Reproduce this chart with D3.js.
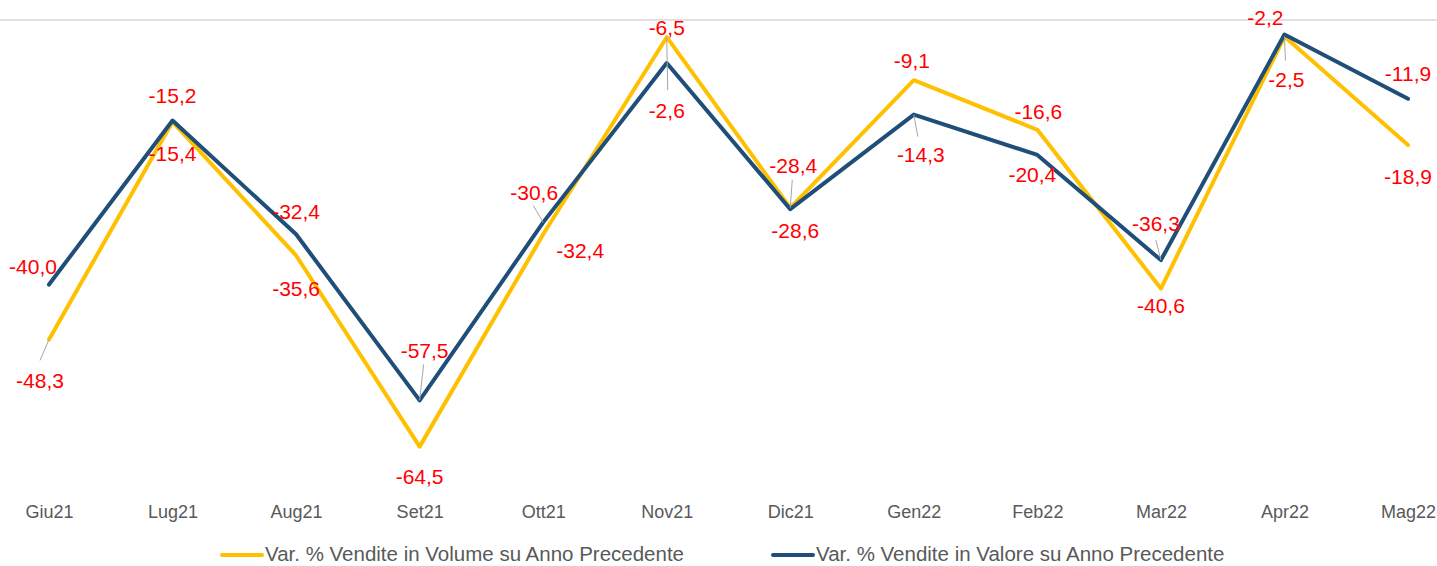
<!DOCTYPE html>
<head>
<meta charset="UTF-8">
<title>Var. % Vendite</title>
<style>
body { margin: 0; background: #fff; }
.cat text { font: 18px "Liberation Sans", sans-serif; fill: #595959; }
.lbl { font: 21px "Liberation Sans", sans-serif; fill: #ff0000; }
.leader { stroke: #a6a6a6; stroke-width: 1px; }
.legend text { font: 20.5px "Liberation Sans", sans-serif; fill: #595959; }
.series { fill: none; stroke-width: 4px; stroke-linejoin: round; stroke-linecap: round; }
</style>
<body>
<script src="https://cdn.jsdelivr.net/npm/d3@7"></script>
<script>

// categories and the two series
var months = ["Giu21", "Lug21", "Aug21", "Set21", "Ott21", "Nov21",
              "Dic21", "Gen22", "Feb22", "Mar22", "Apr22", "Mag22"];
var volume = [-48.3, -15.4, -35.6, -64.5, -32.4, -2.6, -28.4, -9.1, -16.6, -40.6, -2.5, -18.9];
var valore = [-40.0, -15.2, -32.4, -57.5, -30.6, -6.5, -28.6, -14.3, -20.4, -36.3, -2.2, -11.9];
var seriesNames = ["Var. % Vendite in Volume su Anno Precedente",
                   "Var. % Vendite in Valore su Anno Precedente"];

// where each data label sits relative to its point (dx, dy, optional leader end)
var volLabelPos = [
  {dx: -9, dy: 41, lead: [-9, 21]}, {dx: 0, dy: 32}, {dx: 0, dy: 33}, {dx: 0, dy: 30},
  {dx: 37, dy: 16}, {dx: 0, dy: 73, lead: [1, 53]}, {dx: 3, dy: -42, lead: [2, -28]},
  {dx: -2, dy: -20}, {dx: 1, dy: -18}, {dx: 0, dy: 17}, {dx: 2, dy: 43, lead: [1, 24]},
  {dx: 0, dy: 31}
];
var valLabelPos = [
  {dx: -16, dy: -18}, {dx: 0, dy: -25}, {dx: 0, dy: -23}, {dx: 5, dy: -50, lead: [4, -36]},
  {dx: -9, dy: -30, lead: [-10, -17]}, {dx: 0, dy: -36}, {dx: 5, dy: 21},
  {dx: 7, dy: 40, lead: [4, 22]}, {dx: -5, dy: 20}, {dx: -5, dy: -37, lead: [-5, -20]},
  {dx: -19, dy: -17}, {dx: 0, dy: -25}
];

var width = 1437, height = 566;

var svg = d3.select("body").append("svg")
    .attr("width", width)
    .attr("height", height);

var x = d3.scalePoint().domain(months).range([49, 1408]);
var y = d3.scaleLinear().domain([-70, 0]).range([483, 20]);

// the only gridline (at 0)
svg.append("line")
    .attr("x1", 0).attr("x2", width)
    .attr("y1", y(0)).attr("y2", y(0))
    .attr("stroke", "#d9d9d9")
    .attr("stroke-width", 1.5);

// category labels
var xAxis = svg.append("g")
    .attr("class", "cat")
    .attr("transform", "translate(0,512)")
    .call(d3.axisBottom(x).tickSize(0).tickPadding(0));
xAxis.select(".domain").remove();
xAxis.selectAll("text").attr("dy", "0.35em").attr("y", 0).attr("fill", null);

var line = d3.line()
    .x(function(d, i) { return x(months[i]); })
    .y(function(d) { return y(d); });

var series = [
  {values: volume, color: "#ffc000", pos: volLabelPos},
  {values: valore, color: "#1f4e79", pos: valLabelPos}
];

series.forEach(function(s) {
  svg.append("path")
      .datum(s.values)
      .attr("class", "series")
      .attr("stroke", s.color)
      .attr("d", line);
});

// leader lines and data labels
series.forEach(function(s) {
  s.values.forEach(function(v, i) {
    var px = x(months[i]), py = y(v), p = s.pos[i];
    if (p.lead) {
      svg.append("line")
          .attr("class", "leader")
          .attr("x1", px).attr("y1", py)
          .attr("x2", px + p.lead[0]).attr("y2", py + p.lead[1]);
    }
    svg.append("text")
        .attr("class", "lbl")
        .attr("x", px + p.dx)
        .attr("y", py + p.dy)
        .attr("dy", "0.36em")
        .attr("text-anchor", "middle")
        .text(d3.format(".1f")(v).replace("−", "-").replace(".", ","));
  });
});

// legend
var legendX = [222, 773];
var legend = svg.append("g").attr("class", "legend");
series.forEach(function(s, i) {
  legend.append("line")
      .attr("x1", legendX[i]).attr("x2", legendX[i] + 40)
      .attr("y1", 555).attr("y2", 555)
      .attr("stroke", s.color)
      .attr("stroke-width", 4)
      .attr("stroke-linecap", "round");
  legend.append("text")
      .attr("x", legendX[i] + 43)
      .attr("y", 561)
      .text(seriesNames[i]);
});

</script>
</body>
